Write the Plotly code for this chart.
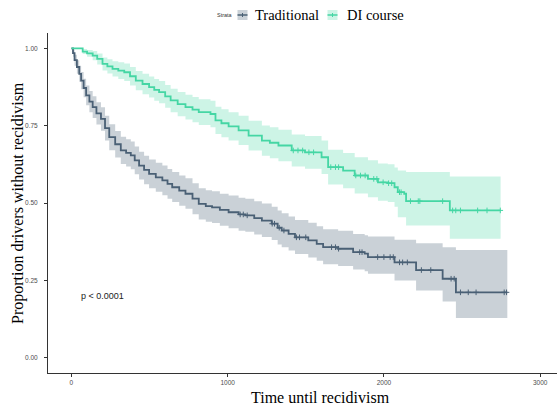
import numpy as np
import plotly.graph_objects as go

# ---- Traditional group (Kaplan-Meier estimate)
trad_time = [0, 10, 20, 35, 50, 62, 78, 94, 115, 136, 160, 189, 215, 242, 280, 316, 350, 380, 405, 433,
             465, 497, 540, 582, 615, 645, 690, 730, 775, 815, 860, 900, 950, 1006, 1070, 1113, 1170, 1219,
             1282, 1320, 1346, 1390, 1431, 1516, 1570, 1611, 1707, 1803, 1877, 1898, 2068, 2206, 2376, 2461, 2790]
trad_surv = [1.0, 0.985, 0.962, 0.94, 0.918, 0.896, 0.872, 0.848, 0.828, 0.81, 0.79, 0.772, 0.742, 0.713, 0.69,
             0.67, 0.662, 0.654, 0.638, 0.621, 0.607, 0.594, 0.583, 0.573, 0.562, 0.551, 0.54, 0.53, 0.514, 0.497,
             0.49, 0.486, 0.478, 0.47, 0.463, 0.46, 0.451, 0.443, 0.433, 0.42, 0.411, 0.4, 0.389, 0.379, 0.368,
             0.357, 0.352, 0.341, 0.336, 0.325, 0.308, 0.283, 0.255, 0.211, 0.211]
trad_lower = [1.0, 0.973, 0.944, 0.918, 0.892, 0.868, 0.842, 0.816, 0.794, 0.775, 0.754, 0.734, 0.702, 0.671, 0.647,
              0.626, 0.618, 0.609, 0.593, 0.576, 0.561, 0.548, 0.536, 0.525, 0.514, 0.503, 0.491, 0.481, 0.464, 0.447,
              0.439, 0.435, 0.426, 0.418, 0.41, 0.407, 0.398, 0.39, 0.38, 0.366, 0.357, 0.346, 0.335, 0.324, 0.313,
              0.302, 0.296, 0.285, 0.279, 0.271, 0.249, 0.217, 0.181, 0.128, 0.128]
trad_upper = [1.0, 0.997, 0.98, 0.962, 0.944, 0.924, 0.902, 0.88, 0.862, 0.845, 0.826, 0.81, 0.782, 0.755, 0.733,
              0.714, 0.706, 0.699, 0.683, 0.666, 0.653, 0.641, 0.63, 0.621, 0.61, 0.6, 0.589, 0.58, 0.564, 0.548,
              0.541, 0.538, 0.53, 0.524, 0.517, 0.514, 0.506, 0.498, 0.488, 0.476, 0.467, 0.456, 0.445, 0.436, 0.425,
              0.415, 0.41, 0.4, 0.396, 0.392, 0.381, 0.37, 0.357, 0.348, 0.348]
trad_censor = [1080, 1100, 1125, 1285, 1300, 1330, 1360, 1440, 1460, 1500, 1665, 1690, 1710, 1845, 1860,
               1960, 2000, 2040, 2060, 2100, 2120, 2150, 2240, 2300, 2430, 2450, 2490, 2540, 2590, 2770, 2785]

# ---- DI course group
di_time = [0, 72, 100, 136, 165, 199, 230, 263, 300, 338, 375, 412, 455, 497, 530, 561, 600, 635, 680, 730, 775,
           815, 890, 922, 960, 1006, 1070, 1134, 1219, 1270, 1325, 1410, 1495, 1601, 1643, 1739, 1813, 1898,
           1962, 2025, 2068, 2089, 2130, 2142, 2422, 2747]
di_surv = [1.0, 0.99, 0.984, 0.977, 0.966, 0.95, 0.942, 0.934, 0.928, 0.923, 0.91, 0.896, 0.885, 0.875, 0.866,
           0.859, 0.845, 0.832, 0.82, 0.81, 0.802, 0.794, 0.788, 0.767, 0.758, 0.748, 0.735, 0.718, 0.702, 0.695,
           0.686, 0.67, 0.664, 0.648, 0.616, 0.605, 0.589, 0.578, 0.567, 0.564, 0.551, 0.535, 0.53, 0.506, 0.476, 0.476]
di_lower = [1.0, 0.982, 0.973, 0.962, 0.948, 0.929, 0.919, 0.909, 0.901, 0.895, 0.88, 0.865, 0.852, 0.841, 0.831,
            0.823, 0.808, 0.794, 0.781, 0.77, 0.761, 0.752, 0.745, 0.723, 0.713, 0.702, 0.688, 0.67, 0.653, 0.645,
            0.635, 0.618, 0.611, 0.594, 0.56, 0.548, 0.531, 0.519, 0.507, 0.503, 0.488, 0.454, 0.454, 0.427, 0.384, 0.384]
di_upper = [1.0, 0.998, 0.995, 0.992, 0.984, 0.971, 0.965, 0.959, 0.955, 0.951, 0.94, 0.927, 0.918, 0.909, 0.901,
            0.895, 0.882, 0.87, 0.859, 0.85, 0.843, 0.836, 0.831, 0.811, 0.803, 0.794, 0.782, 0.766, 0.751, 0.745,
            0.737, 0.722, 0.717, 0.702, 0.672, 0.662, 0.648, 0.638, 0.628, 0.625, 0.615, 0.605, 0.605, 0.6, 0.586, 0.586]
di_censor = [1420, 1450, 1480, 1520, 1550, 1660, 1690, 1710, 1820, 1850, 1880, 1935, 1955, 1995, 2030, 2050,
             2100, 2110, 2170, 2220, 2230, 2376, 2440, 2460, 2490, 2600, 2660, 2745]

strata_names = ["Traditional", "DI course"]
x_ticks = [0, 1000, 2000, 3000]
y_ticks = [0, 0.25, 0.5, 0.75, 1.0]
y_tick_labels = ["0.00", "0.25", "0.50", "0.75", "1.00"]

TRAD_LINE = "#4A6075"
TRAD_FILL = "rgba(74,96,117,0.29)"
DI_LINE = "#45D6A4"
DI_FILL = "rgba(69,214,164,0.27)"

W, H = 557, 405
ML, MR, MT, MB = 48, 0, 33, 32
PW, PH = W - ML - MR, H - MT - MB


def px_x(p):  # pixel column -> paper x
    return (p - ML) / PW


def px_y(p):  # pixel row -> paper y
    return (H - MB - p) / PH


def step_lookup(times, surv, pts):
    idx = np.searchsorted(np.array(times), np.array(pts), side="right") - 1
    return [surv[i] for i in idx]


fig = go.Figure()

groups = [
    (strata_names[0], trad_time, trad_surv, trad_lower, trad_upper, trad_censor, TRAD_LINE, TRAD_FILL),
    (strata_names[1], di_time, di_surv, di_lower, di_upper, di_censor, DI_LINE, DI_FILL),
]

for name, t, s, lo, up, cens, lc, fc in groups:
    fig.add_trace(go.Scatter(x=t, y=lo, mode="lines", line=dict(width=0, shape="hv"),
                             showlegend=False, hoverinfo="skip"))
    fig.add_trace(go.Scatter(x=t, y=up, mode="lines", line=dict(width=0, shape="hv"),
                             fill="tonexty", fillcolor=fc, showlegend=False, hoverinfo="skip"))
    fig.add_trace(go.Scatter(x=t, y=s, mode="lines", line=dict(color=lc, width=1.8, shape="hv"),
                             showlegend=False, name=name))
    fig.add_trace(go.Scatter(x=cens, y=step_lookup(t, s, cens), mode="markers",
                             marker=dict(symbol="cross-thin", size=4, line=dict(color=lc, width=1)),
                             showlegend=False, hoverinfo="skip"))

# ---- legend (ggplot style: "Strata" title, small keys with band fill + line)
legend_font = dict(family="Liberation Serif, Times New Roman", size=14.5, color="black")
fig.add_annotation(x=px_x(224.5), y=px_y(15), xref="paper", yref="paper", text="Strata",
                   showarrow=False, xanchor="center", yanchor="middle",
                   font=dict(family="Liberation Sans, Arial", size=5.5, color="#333333"))
key_pos = [(237.5, 253), (327.5, 345)]
for (kx, tx), (name, t, s, lo, up, cens, lc, fc) in zip(key_pos, groups):
    fig.add_shape(type="rect", xref="paper", yref="paper", x0=px_x(kx), x1=px_x(kx + 10),
                  y0=px_y(20), y1=px_y(10), fillcolor=fc, line=dict(width=0))
    fig.add_shape(type="line", xref="paper", yref="paper", x0=px_x(kx), x1=px_x(kx + 10),
                  y0=px_y(15), y1=px_y(15), line=dict(color=lc, width=1.5))
    fig.add_shape(type="line", xref="paper", yref="paper", x0=px_x(kx + 5), x1=px_x(kx + 5),
                  y0=px_y(17), y1=px_y(13), line=dict(color=lc, width=1))
    fig.add_annotation(x=px_x(tx), y=px_y(15), xref="paper", yref="paper", text=name,
                       showarrow=False, xanchor="left", yanchor="middle", font=legend_font)

fig.add_annotation(x=50, y=0.2, xref="x", yref="y", text="p < 0.0001", showarrow=False,
                   xanchor="left", yanchor="middle",
                   font=dict(family="Liberation Sans, Arial", size=9, color="#222222"))

fig.add_annotation(x=0.5, y=0, xref="paper", yref="paper", text="Time until recidivism",
                   showarrow=False, yshift=-24, xshift=18, xanchor="center", yanchor="middle",
                   font=dict(family="Liberation Serif, Times New Roman", size=16, color="black"))
fig.add_annotation(x=0, y=0.5, xref="paper", yref="paper", text="Proportion drivers without recidivism",
                   showarrow=False, xshift=-30, textangle=-90, xanchor="center", yanchor="middle",
                   font=dict(family="Liberation Serif, Times New Roman", size=16, color="black"))

tick_font = dict(family="Liberation Sans, Arial", size=6.5, color="#4D4D4D")
fig.update_layout(
    width=W, height=H,
    margin=dict(l=ML, r=MR, t=MT, b=MB, autoexpand=False),
    paper_bgcolor="white", plot_bgcolor="white",
    showlegend=False,
    xaxis=dict(range=[-150, 3108], tickvals=x_ticks, showgrid=False, zeroline=False, automargin=False,
               showline=True, linecolor="#333333", linewidth=1, ticks="outside", ticklen=3,
               tickcolor="#333333", tickfont=tick_font),
    yaxis=dict(range=[-0.05, 1.05], tickvals=y_ticks, ticktext=y_tick_labels, showgrid=False, zeroline=False,
               automargin=False, ticklabelstandoff=5,
               showline=True, linecolor="#333333", linewidth=1, ticks="outside", ticklen=3,
               tickcolor="#333333", tickfont=tick_font),
)

fig.write_html("out.html", config={"displayModeBar": False},
               post_script="document.body.style.margin='0';")
